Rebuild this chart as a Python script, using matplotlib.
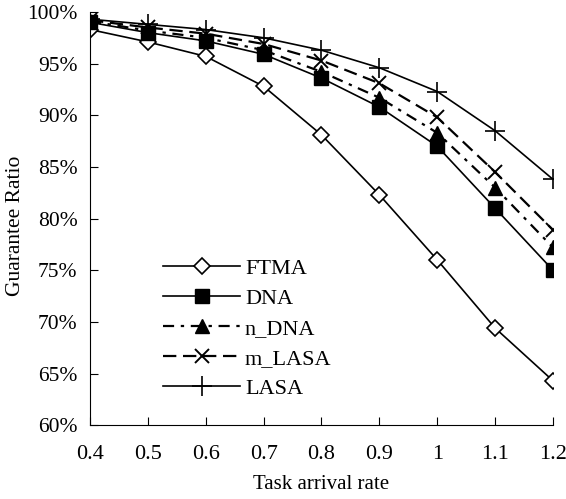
import matplotlib.pyplot as plt
from matplotlib.ticker import FuncFormatter

# ---------------- DATA ----------------
rates = [0.4, 0.5, 0.6, 0.7, 0.8, 0.9, 1.0, 1.1, 1.2]
rate_labels = ["0.4", "0.5", "0.6", "0.7", "0.8", "0.9", "1", "1.1", "1.2"]

ftma = [98.3, 97.1, 95.7, 92.8, 88.1, 82.3, 76.0, 69.4, 64.3]
dna = [99.0, 98.0, 97.2, 95.9, 93.6, 90.8, 87.0, 81.0, 75.0]
n_dna = [99.1, 98.2, 97.5, 96.3, 94.2, 91.7, 88.3, 83.0, 77.2]
m_lasa = [99.2, 98.5, 97.9, 96.9, 95.3, 93.1, 89.8, 84.5, 78.9]
lasa = [99.3, 98.8, 98.3, 97.5, 96.3, 94.6, 92.3, 88.5, 83.8]

# ---------------- STYLE ----------------
plt.rcParams['font.family'] = ['Liberation Serif', 'DejaVu Serif']

fig = plt.figure(figsize=(5.66, 4.99), dpi=100)
ax = fig.add_axes([0.159, 0.148, 0.818, 0.828])

ax.plot(rates, ftma, color='black', lw=1.2, marker='D', ms=8,
        mfc='white', mec='black', mew=1.2, label='FTMA')
ax.plot(rates, dna, color='black', lw=1.2, marker='s', ms=10,
        mfc='black', mec='black', label='DNA')
ax.plot(rates, n_dna, color='black', lw=1.6, marker='^', ms=10,
        mfc='black', mec='black', dashes=(5, 3, 1.5, 3), label='n_DNA')
ax.plot(rates, m_lasa, color='black', lw=1.6, marker='x', ms=10,
        mew=1.4, dashes=(6, 3), label='m_LASA')
ax.plot(rates, lasa, color='black', lw=1.2, marker='+', ms=15,
        mew=1.2, label='LASA')

# ---------------- AXES ----------------
ax.set_xlim(0.4, 1.2)
ax.set_ylim(60, 100)
ax.set_xticks(rates)
ax.set_xticklabels(rate_labels)
ax.set_yticks(range(60, 101, 5))
ax.yaxis.set_major_formatter(FuncFormatter(lambda v, p: f"{int(v)}%"))

ax.spines['top'].set_visible(False)
ax.spines['right'].set_visible(False)
ax.tick_params(axis='both', direction='in', length=6, width=0.8)
ax.tick_params(axis='x', labelsize=16, pad=14)
ax.tick_params(axis='y', labelsize=15.5, pad=9)

ax.set_xlabel("Task arrival rate", fontsize=15, labelpad=8)
ax.set_ylabel("Guarantee Ratio", fontsize=15.5)
ax.yaxis.set_label_coords(-0.14, 0.482)

# ---------------- LEGEND ----------------
ax.legend(loc='upper left', bbox_to_anchor=(0.133, 0.43), frameon=False,
          fontsize=16, handlelength=3.5, handletextpad=0.2,
          labelspacing=0.42, borderpad=0)

fig.savefig("out.png", dpi=100)
